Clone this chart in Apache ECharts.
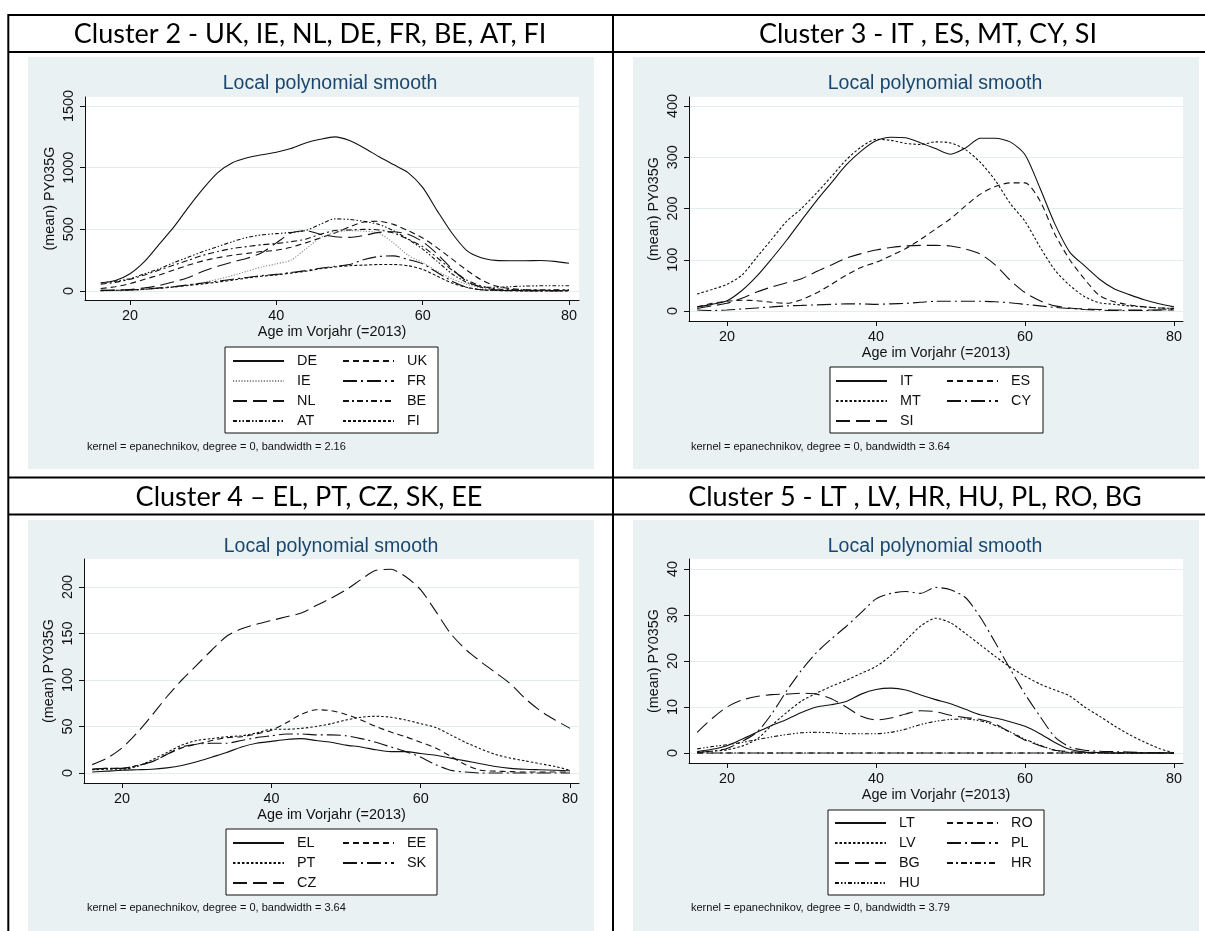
<!DOCTYPE html>
<html>
<head>
<meta charset="utf-8">
<script src="https://cdn.jsdelivr.net/npm/echarts@6/dist/echarts.min.js"></script>
<style>
  html, body { margin: 0; padding: 0; background: #ffffff; }
  #chart { width: 1205px; height: 931px; }
</style>
</head>
<body>
<div id="chart"></div>
<script>
// Age grid shared by all smoothed curves (Age im Vorjahr)
const ages = [16,18,20,22,24,26,28,30,32,34,36,38,40,42,44,46,48,50,52,54,56,58,60,62,64,66,68,70,72,74,76,78,80];

// Axis tick values per panel
const xTickValues = [20, 40, 60, 80];
const yTickValues2 = [0, 500, 1000, 1500];
const yTickValues3 = [0, 100, 200, 300, 400];
const yTickValues4 = [0, 50, 100, 150, 200];
const yTickValues5 = [0, 10, 20, 30, 40];

// Cluster 2 - mean PY035G by age
const DE = [65,85,140,240,380,520,680,830,960,1040,1080,1105,1125,1155,1200,1230,1250,1220,1160,1090,1025,960,840,650,470,330,270,248,245,245,247,240,225];
const UK = [20,35,60,95,130,170,210,245,270,290,305,320,330,355,390,430,470,520,560,565,540,490,430,350,260,170,90,40,20,10,6,5,5];
const IE = [0,2,5,12,22,35,50,70,95,125,160,195,220,250,340,430,475,490,485,470,390,290,230,160,100,55,25,10,5,3,2,2,2];
const FR = [5,6,8,15,25,35,50,65,80,95,110,125,135,150,165,185,200,215,255,280,285,255,220,150,80,30,10,5,3,2,2,2,2];
const NL = [5,8,12,25,45,75,110,160,200,235,265,310,390,470,490,460,440,435,450,475,480,460,400,300,180,80,30,10,5,3,2,2,2];
const BE = [55,70,95,130,170,210,250,290,320,345,360,375,385,400,420,460,490,495,500,495,470,420,360,270,170,90,40,18,12,10,10,10,10];
const AT = [65,80,100,140,180,230,275,320,360,400,435,455,465,475,490,540,585,580,565,540,490,420,340,240,140,70,35,30,35,40,42,42,42];
const FI = [3,5,8,14,22,32,45,58,72,88,105,120,130,145,160,180,195,205,210,215,215,205,175,120,65,30,10,4,2,1,1,1,1];

// Cluster 3
const IT = [8,13,20,40,68,102,138,177,215,250,285,312,332,339,338,328,317,306,318,337,337,330,305,240,170,115,88,62,43,32,22,14,8];
const ES = [8,15,19,21,20,17,15,22,35,52,70,85,95,108,122,140,160,180,205,228,243,250,250,215,150,100,62,30,18,12,8,6,5];
const MT = [33,42,52,70,105,140,175,200,230,262,295,320,335,333,327,325,330,328,315,290,255,210,175,125,80,50,28,16,13,10,8,6,5];
const CY = [2,1,2,4,6,8,10,11,12,13,14,14,13,14,15,17,19,19,19,19,18,16,13,10,7,5,3,2,1,1,1,2,3];
const SI = [5,10,15,25,37,47,55,63,77,90,103,112,119,124,127,128,128,127,121,111,90,60,36,20,10,6,4,3,2,2,2,2,2];

// Cluster 4
const EL = [1,2,3,3.5,4,5.5,8,12,17,22,28,32,34,36,37,35,33,30,28,25,23,23,21,19,16,13,10,7,5,4,3.5,3,2.5];
const EE = [4,5,5,8,12,20,27,31,35,38,39,42,46,54,63,68,67,63,57,50,44,39,33,27,18,9,3,2,1.5,1,1,1,1];
const PT = [3.5,4,4,7,14,22,30,35,37,39,40,43,47,47,48,50,53,57,60,61,60,57,53,49,41,33,26,20,16,13,10,7,3];
const SK = [4,5,5,8,12,20,28,31,32,32,35,38,40,42,42,41,41,40,37,33,28,23,17,9,3,1,0,0,0,0,0,0,0];
const CZ = [9,16,27,43,62,82,100,116,132,147,155,160,164,168,172,180,188,197,208,218,219,211,197,174,150,133,120,108,96,80,67,57,48];

// Cluster 5
const LT = [0.3,0.8,1.6,3,4.5,6,7.3,8.8,10,10.5,11.2,12.8,13.8,14.1,13.7,12.6,11.6,10.7,9.5,8.3,7.6,6.8,5.8,4.2,2.3,0.8,0.2,0.1,0,0,0,0,0];
const RO = [0,0,0,0,0,0,0,0,0,0,0,0,0,0,0,0,0,0,0,0,0,0,0,0,0,0,0,0,0,0,0,0,0];
const LV = [0.2,0.4,0.7,1.5,3,6,8.8,11.3,13,14.5,15.8,17.3,18.8,21.2,24.5,27.6,29.3,28.3,26,23.5,21,18.7,16.7,15,13.7,12.4,10,8,5.9,4,2.4,1,0];
const PL = [0.1,0.4,1,2.5,4.5,8.5,13.5,18,21.8,24.8,27.5,30.5,33.5,34.7,35.1,34.7,36,35.5,33.8,29.5,24,18.3,12.8,8,3.5,1.3,0.6,0.4,0.3,0.2,0.1,0.05,0];
const BG = [4.5,7.5,10,11.5,12.3,12.7,12.8,13,12.8,11.8,10,8,7.2,7.6,8.5,9.2,9,8.2,7.7,7.3,6.3,4.5,2.8,1.6,0.6,0.3,0.2,0.1,0,0,0,0,0];
const HR = [0,0,0,0,0,0,0,0,0,0,0,0,0,0,0,0,0,0,0,0,0,0,0,0,0,0,0,0,0,0,0,0,0];
const HU = [0.9,1.4,1.8,2.3,2.9,3.5,4,4.4,4.5,4.4,4.2,4.2,4.2,4.5,5.2,6.2,6.9,7.3,7.4,7,6,4.6,3,1.7,0.6,0.1,0,0,0,0,0,0,0];

// Text
const headers = [
  'Cluster 2 - UK, IE, NL, DE, FR, BE, AT, FI',
  'Cluster 3 - IT , ES, MT, CY, SI',
  'Cluster 4 \u2013 EL, PT, CZ, SK, EE',
  'Cluster 5 - LT , LV, HR, HU, PL, RO, BG'
];
const plotTitle = 'Local polynomial smooth';
const xTitle = 'Age im Vorjahr (=2013)';
const yTitle = '(mean) PY035G';
const notes = [
  'kernel = epanechnikov, degree = 0, bandwidth = 2.16',
  'kernel = epanechnikov, degree = 0, bandwidth = 3.64',
  'kernel = epanechnikov, degree = 0, bandwidth = 3.64',
  'kernel = epanechnikov, degree = 0, bandwidth = 3.79'
];

// ---------- styling ----------
const FONT = '"Liberation Sans", Arial, sans-serif';
const HEAD_FONT = 'Lato, "Open Sans", sans-serif';
const INK = '#111111';
const PANEL_BG = '#E9F1F3';
const GRID_LINE = '#E3ECEF';
const NAVY = '#1A476F';
const LAB = 14.4;

const DASH = {
  solid: 'solid',
  dash: [6, 4],
  dot: [2.5, 2],
  fineDot: [1.2, 1.6],
  longdashDot: [14, 4, 2, 4],
  longdash: [14, 6],
  dashDot: [6, 3, 2, 3],
  dashDotDot: [4, 2, 1.5, 2, 1.5, 2],
  shortdash: [3, 2]
};

// panel geometry (plot rectangles and axis ranges)
const panels = [
  { grid: { left: 85,  top: 97,  width: 494, height: 203 }, x: [13.85, 81.37], y: [-73, 1573],    ticks: yTickValues2,
    bg: [28, 57, 566, 412], title: [330, 84], note: [87, 447], box: [225, 347, 213, 86], legendTop: 354, legendLeft: [232, 342],
    series: [['DE', DE, 'solid'], ['UK', UK, 'dash'], ['IE', IE, 'fineDot', '#8a8a8a'], ['FR', FR, 'longdashDot'],
             ['NL', NL, 'longdash'], ['BE', BE, 'dashDot'], ['AT', AT, 'dashDotDot'], ['FI', FI, 'shortdash']] },
  { grid: { left: 689, top: 97,  width: 494, height: 224 }, x: [14.9, 81.2], y: [-19.5, 417.6], ticks: yTickValues3,
    bg: [633, 57, 566, 412], title: [935, 84], note: [691, 447], box: [830, 367, 213, 66], legendTop: 374, legendLeft: [835, 946],
    series: [['IT', IT, 'solid'], ['ES', ES, 'dash'], ['MT', MT, 'dot'], ['CY', CY, 'longdashDot'], ['SI', SI, 'longdash']] },
  { grid: { left: 84,  top: 559, width: 495, height: 224 }, x: [14.9, 81.2], y: [-10.75, 230.1], ticks: yTickValues4,
    bg: [28, 520, 566, 420], title: [331, 547], note: [87, 908], box: [226, 829, 211, 66], legendTop: 836, legendLeft: [232, 342],
    series: [['EL', EL, 'solid'], ['EE', EE, 'dash'], ['PT', PT, 'dot'], ['SK', SK, 'longdashDot'], ['CZ', CZ, 'longdash']] },
  { grid: { left: 689, top: 559, width: 494, height: 204 }, x: [14.9, 81.2], y: [-2.17, 42.17], ticks: yTickValues5,
    bg: [633, 520, 566, 420], title: [935, 547], note: [691, 908], box: [828, 810, 216, 85], legendTop: 816, legendLeft: [834, 946],
    series: [['LT', LT, 'solid'], ['RO', RO, 'dash'], ['LV', LV, 'dot'], ['PL', PL, 'longdashDot'],
             ['BG', BG, 'longdash'], ['HR', HR, 'dashDot'], ['HU', HU, 'dashDotDot']] }
];

const headerPos = [[310, 34], [928, 34], [309, 497], [915, 497]];

const plainNumber = v => String(v);
const grid = [], xAxis = [], yAxis = [], series = [], legend = [], elements = [];

panels.forEach((p, i) => {
  grid.push(Object.assign({ show: true, backgroundColor: '#ffffff', borderWidth: 0, containLabel: false }, p.grid));

  xAxis.push({
    type: 'value', gridIndex: i, min: p.x[0], max: p.x[1],
    axisLine: { show: true, onZero: false, lineStyle: { color: INK, width: 1 } },
    axisTick: { show: true, length: 5, customValues: xTickValues, lineStyle: { color: INK } },
    axisLabel: { customValues: xTickValues, formatter: plainNumber, margin: 9, fontSize: LAB, fontFamily: FONT, color: INK },
    splitLine: { show: false },
    name: xTitle, nameLocation: 'middle', nameGap: 25,
    nameTextStyle: { fontSize: LAB, fontFamily: FONT, color: INK }
  });

  yAxis.push({
    type: 'value', gridIndex: i, min: p.y[0], max: p.y[1],
    axisLine: { show: true, onZero: false, lineStyle: { color: INK, width: 1 } },
    axisTick: { show: true, length: 5, customValues: p.ticks, lineStyle: { color: INK } },
    axisLabel: { customValues: p.ticks, formatter: plainNumber, rotate: 90, margin: 9, fontSize: LAB, fontFamily: FONT, color: INK },
    splitLine: { show: true, lineStyle: { color: GRID_LINE, width: 1.2 } },
    name: yTitle, nameLocation: 'middle', nameGap: 28,
    nameTextStyle: { fontSize: LAB, fontFamily: FONT, color: INK }
  });

  p.series.forEach(([name, vals, dash, col]) => {
    series.push({
      name, type: 'line', xAxisIndex: i, yAxisIndex: i,
      data: ages.map((a, k) => [a, vals[k]]),
      showSymbol: false, symbol: 'none', smooth: 0.25,
      lineStyle: { color: col || INK, width: 1.1, type: DASH[dash] },
      itemStyle: { color: col || INK },
      silent: true
    });
  });

  // two legend columns, filled row by row
  const names = p.series.map(s => s[0]);
  const col1 = names.filter((_, k) => k % 2 === 0);
  const col2 = names.filter((_, k) => k % 2 === 1);
  [col1, col2].forEach((cols, c) => {
    legend.push({
      data: cols, orient: 'vertical', left: p.legendLeft[c], top: p.legendTop,
      itemWidth: 51, itemHeight: 14, itemGap: 6, padding: 0, selectedMode: false,
      formatter: '  {name}',
      itemStyle: { opacity: 0 },
      textStyle: { fontSize: LAB, fontFamily: FONT, color: INK, lineHeight: 14 }
    });
  });

  elements.push({ type: 'rect', z: -10, silent: true,
    shape: { x: p.bg[0], y: p.bg[1], width: p.bg[2], height: p.bg[3] }, style: { fill: PANEL_BG } });
  elements.push({ type: 'rect', z: 1, silent: true,
    shape: { x: p.box[0], y: p.box[1], width: p.box[2], height: p.box[3] },
    style: { fill: '#ffffff', stroke: INK, lineWidth: 1 } });
  elements.push({ type: 'text', z: 5, silent: true,
    style: { x: p.title[0], y: p.title[1], text: plotTitle, fill: NAVY, fontSize: 19.5, fontFamily: FONT,
             textAlign: 'center', textVerticalAlign: 'middle' } });
  elements.push({ type: 'text', z: 5, silent: true,
    style: { x: p.note[0], y: p.note[1], text: notes[i], fill: INK, fontSize: 11, fontFamily: FONT,
             textAlign: 'left', textVerticalAlign: 'middle' } });
  elements.push({ type: 'text', z: 5, silent: true,
    style: { x: headerPos[i][0], y: headerPos[i][1], text: headers[i], fill: '#000000', fontSize: 27, fontFamily: HEAD_FONT,
             textAlign: 'center', textVerticalAlign: 'middle' } });
});

// table rules around the four cells
const rules = [
  [8, 15, 1205, 15], [8, 52, 1205, 52], [8, 477.5, 1205, 477.5], [8, 514.5, 1205, 514.5],
  [8.3, 14, 8.3, 931], [613, 14, 613, 931]
];
rules.forEach(r => elements.push({ type: 'line', z: 20, silent: true,
  shape: { x1: r[0], y1: r[1], x2: r[2], y2: r[3] }, style: { stroke: '#000000', lineWidth: 2 } }));

const chart = echarts.init(document.getElementById('chart'), null, { renderer: 'canvas' });
chart.setOption({
  animation: false,
  backgroundColor: '#ffffff',
  grid, xAxis, yAxis, series, legend,
  graphic: { elements }
});
</script>
</body>
</html>
